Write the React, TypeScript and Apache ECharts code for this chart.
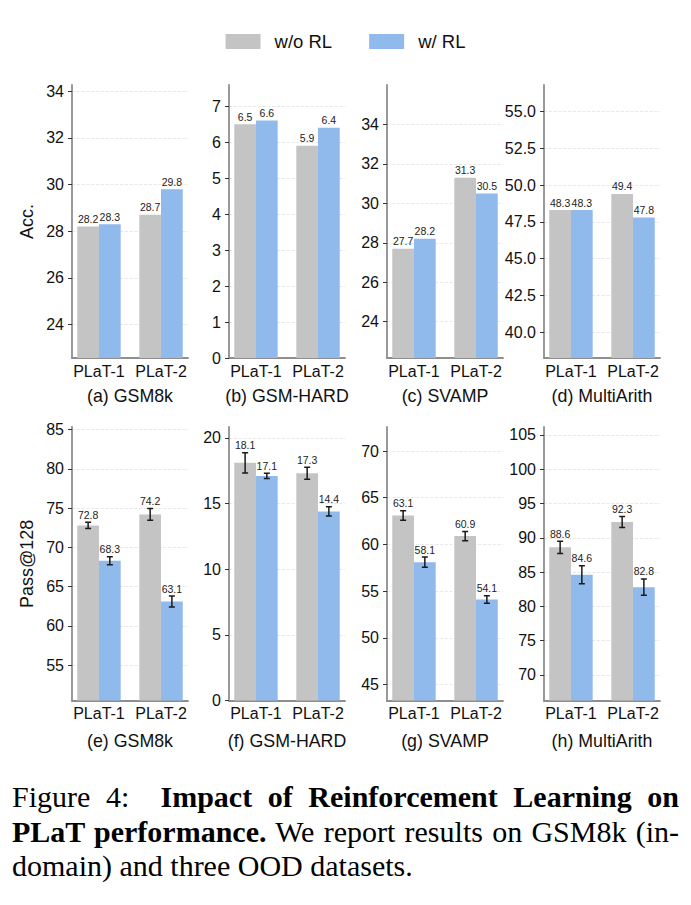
import React, { useEffect, useRef } from "react";
import * as echarts from "echarts";

// ---------------- data ----------------
const models = ["PLaT-1", "PLaT-2"];
const legendNames = ["w/o RL", "w/ RL"];
const panelTitles = [
  "(a) GSM8k",
  "(b) GSM-HARD",
  "(c) SVAMP",
  "(d) MultiArith",
  "(e) GSM8k",
  "(f) GSM-HARD",
  "(g) SVAMP",
  "(h) MultiArith",
];
const rowLabels = ["Acc.", "Pass@128"];

// Acc. (top row) and Pass@128 (bottom row); per panel [PLaT-1, PLaT-2]
const woRL = [
  [28.2, 28.7],
  [6.5, 5.9],
  [27.7, 31.3],
  [48.3, 49.4],
  [72.8, 74.2],
  [18.1, 17.3],
  [63.1, 60.9],
  [88.6, 92.3],
];
const wRL = [
  [28.3, 29.8],
  [6.6, 6.4],
  [28.2, 30.5],
  [48.3, 47.8],
  [68.3, 63.1],
  [17.1, 14.4],
  [58.1, 54.1],
  [84.6, 82.8],
];
// error bar half-widths (0 = no error bar)
const woRLErr = [
  [0, 0],
  [0, 0],
  [0, 0],
  [0, 0],
  [0.4, 0.75],
  [0.77, 0.45],
  [0.5, 0.5],
  [0.9, 0.8],
];
const wRLErr = [
  [0, 0],
  [0, 0],
  [0, 0],
  [0, 0],
  [0.5, 0.7],
  [0.2, 0.35],
  [0.55, 0.4],
  [1.3, 1.2],
];

const yMin = [22.56, 0, 22.16, 38.24, 50.48, 0, 43.28, 66.24];
const yMax = [34.27, 7.59, 36.0, 56.81, 85.33, 20.82, 72.57, 106.15];
const yTicks = [
  [24, 26, 28, 30, 32, 34],
  [0, 1, 2, 3, 4, 5, 6, 7],
  [24, 26, 28, 30, 32, 34],
  [40, 42.5, 45, 47.5, 50, 52.5, 55],
  [55, 60, 65, 70, 75, 80, 85],
  [0, 5, 10, 15, 20],
  [45, 50, 55, 60, 65, 70],
  [70, 75, 80, 85, 90, 95, 100, 105],
];
const yTickDecimals = [0, 0, 0, 1, 0, 0, 0, 0];

// ---------------- style ----------------
const COLORS = ["#c4c4c4", "#90b9ec"];
const FONT = "'Liberation Sans', Arial, Helvetica, sans-serif";
const BAR_W = 0.35;
const X_MIN = -0.435;
const X_MAX = 1.435;
const GRID_LEFTS = [72, 229, 387, 544];
const GRID_W = 116;
const ROW_TOP = [85, 427];
const ROW_H = [273, 273.7];
const TITLE_TOP = [387, 732];

function makeRender(side: number, color: string) {
  return (params: any, api: any) => {
    const x = api.value(0);
    const y = api.value(1);
    const e = api.value(2);
    const cs = params.coordSys;
    const bottom = cs.y + cs.height;
    const pL = api.coord([x + (side < 0 ? -BAR_W : 0), y]);
    const pR = api.coord([x + (side < 0 ? 0 : BAR_W), y]);
    const cx = api.coord([x + (side * BAR_W) / 2, y])[0];
    const children: any[] = [
      {
        type: "rect",
        shape: { x: pL[0], y: pL[1], width: pR[0] - pL[0], height: bottom - pL[1] },
        style: { fill: color },
      },
    ];
    let top = pL[1];
    if (e > 0) {
      const yt = api.coord([x, y + e])[1];
      const yb = api.coord([x, y - e])[1];
      const es = { stroke: "#1a1a1a", lineWidth: 1.5 };
      children.push({ type: "line", shape: { x1: cx, y1: yt, x2: cx, y2: yb }, style: es });
      children.push({ type: "line", shape: { x1: cx - 3, y1: yt, x2: cx + 3, y2: yt }, style: es });
      children.push({ type: "line", shape: { x1: cx - 3, y1: yb, x2: cx + 3, y2: yb }, style: es });
      top = yt;
    }
    children.push({
      type: "text",
      x: cx,
      y: top - 2,
      style: {
        text: y.toFixed(1),
        align: "center",
        verticalAlign: "bottom",
        fontSize: 10.5,
        fontFamily: FONT,
        fill: "#222",
      },
    });
    return { type: "group", children };
  };
}

export default function App() {
  const ref = useRef<HTMLDivElement>(null);

  useEffect(() => {
    if (!ref.current) return;
    const chart = echarts.init(ref.current, undefined, { renderer: "svg" });

    const grids: any[] = [];
    const xAxes: any[] = [];
    const yAxes: any[] = [];
    const series: any[] = [];
    const titles: any[] = [];

    for (let i = 0; i < 8; i++) {
      const row = i < 4 ? 0 : 1;
      const col = i % 4;
      const left = GRID_LEFTS[col];
      grids.push({ left, top: ROW_TOP[row], width: GRID_W, height: ROW_H[row] });
      xAxes.push({
        gridIndex: i,
        type: "value",
        min: X_MIN,
        max: X_MAX,
        axisLine: { show: true, onZero: false, lineStyle: { color: "#8e8e8e", width: 1.8 } },
        axisTick: { show: false },
        splitLine: { show: false },
        axisLabel: {
          customValues: [0, 1],
          formatter: (v: number) => models[Math.round(v)],
          fontSize: 16,
          fontFamily: FONT,
          color: "#111",
          margin: 5,
        },
      });
      const dec = yTickDecimals[i];
      yAxes.push({
        gridIndex: i,
        type: "value",
        min: yMin[i],
        max: yMax[i],
        name: col === 0 ? rowLabels[row] : "",
        nameLocation: "middle",
        nameGap: 36,
        nameTextStyle: { fontSize: 18, fontFamily: FONT, color: "#111" },
        axisLine: { show: true, onZero: false, lineStyle: { color: "#8e8e8e", width: 1.8 } },
        axisTick: {
          show: true,
          customValues: yTicks[i],
          length: 4,
          lineStyle: { color: "#333", width: 1 },
        },
        axisLabel: {
          customValues: yTicks[i],
          formatter: (v: number) => v.toFixed(dec),
          fontSize: 16,
          fontFamily: FONT,
          color: "#111",
          margin: 8,
        },
        splitLine: { show: true, lineStyle: { type: "dashed", color: "#e2e2e2", width: 0.8 } },
      });
      titles.push({
        text: panelTitles[i],
        left: left + GRID_W / 2,
        top: TITLE_TOP[row],
        padding: 0,
        textAlign: "center",
        textStyle: { fontSize: 17.8, fontWeight: "normal", fontFamily: FONT, color: "#111" },
      });
      const groups = [
        { vals: woRL[i], errs: woRLErr[i], side: -1 },
        { vals: wRL[i], errs: wRLErr[i], side: 1 },
      ];
      groups.forEach((g, k) => {
        series.push({
          type: "custom",
          name: legendNames[k],
          xAxisIndex: i,
          yAxisIndex: i,
          itemStyle: { color: COLORS[k] },
          encode: { x: 0, y: 1 },
          data: models.map((_, j) => [j, g.vals[j], g.errs[j]]),
          renderItem: makeRender(g.side, COLORS[k]),
          clip: true,
        });
      });
    }

    chart.setOption({
      animation: false,
      backgroundColor: "#fff",
      textStyle: { fontFamily: FONT },
      title: titles,
      legend: {
        data: legendNames,
        top: 27,
        left: "center",
        icon: "rect",
        itemWidth: 35,
        itemHeight: 15,
        itemGap: 37,
        selectedMode: false,
        textStyle: { fontSize: 18.5, fontFamily: FONT, color: "#111", padding: [0, 0, 0, 9] },
      },
      grid: grids,
      xAxis: xAxes,
      yAxis: yAxes,
      series,
    });

    return () => chart.dispose();
  }, []);

  const capLine: React.CSSProperties = {
    textAlign: "justify",
    textAlignLast: "justify" as any,
    whiteSpace: "nowrap",
  };

  return (
    <div style={{ position: "absolute", left: 0, top: 0, width: 691, height: 905, background: "#fff" }}>
      <div ref={ref} style={{ position: "absolute", left: 0, top: 0, width: 691, height: 770 }} />
      <div
        style={{
          position: "absolute",
          left: 12,
          top: 780,
          width: 667,
          fontFamily: "'Liberation Serif', 'Times New Roman', serif",
          fontSize: 30,
          lineHeight: "34.5px",
          color: "#000",
        }}
      >
        <div style={capLine}>
          Figure 4:&nbsp; <b>Impact of Reinforcement Learning on</b>
        </div>
        <div style={capLine}>
          <b>PLaT performance.</b> We report results on GSM8k (in-
        </div>
        <div>domain) and three OOD datasets.</div>
      </div>
    </div>
  );
}
